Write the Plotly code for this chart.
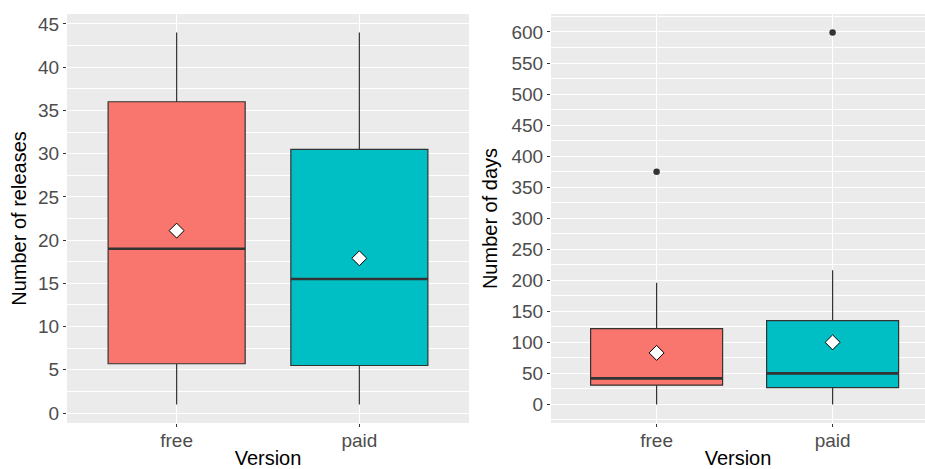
import plotly.graph_objects as go

categories = ["free", "paid"]
fills = ["#F8766D", "#00BFC4"]

# Panel 1: Number of releases
rel_min = [1, 1]
rel_q1 = [5.7, 5.5]
rel_med = [19, 15.5]
rel_q3 = [36, 30.5]
rel_max = [44, 44]
rel_mean = [21.1, 17.9]
rel_out = [[], []]

# Panel 2: Number of days
day_min = [0, 0]
day_q1 = [31, 27]
day_med = [42, 50]
day_q3 = [122, 135]
day_max = [196, 216]
day_mean = [83, 100]
day_out = [[375], [599]]

pos = [1, 2]
box_w = 0.75

fig = go.Figure()

def add_panel(xa, ya, mins, q1s, meds, q3s, maxs, means, outs):
    for i, c in enumerate(categories):
        fig.add_trace(go.Box(
            x=[pos[i]], q1=[q1s[i]], median=[meds[i]], q3=[q3s[i]],
            lowerfence=[mins[i]], upperfence=[maxs[i]],
            width=box_w, whiskerwidth=0,
            fillcolor=fills[i], line=dict(color="#333333", width=1.2),
            boxpoints=False, xaxis=xa, yaxis=ya, showlegend=False, name=c,
            hoverinfo="skip"))
        # thick median line (ggplot fatten)
        fig.add_trace(go.Scatter(
            x=[pos[i] - box_w / 2, pos[i] + box_w / 2], y=[meds[i], meds[i]],
            mode="lines", line=dict(color="#333333", width=2.6),
            xaxis=xa, yaxis=ya, showlegend=False, hoverinfo="skip"))
        if outs[i]:
            fig.add_trace(go.Scatter(
                x=[pos[i]] * len(outs[i]), y=outs[i], mode="markers",
                marker=dict(color="#333333", size=6.5),
                xaxis=xa, yaxis=ya, showlegend=False, hoverinfo="skip"))
    fig.add_trace(go.Scatter(
        x=pos, y=means, mode="markers",
        marker=dict(symbol="diamond", size=11.5, color="white",
                    line=dict(color="black", width=1)),
        xaxis=xa, yaxis=ya, showlegend=False, hoverinfo="skip"))

add_panel("x", "y", rel_min, rel_q1, rel_med, rel_q3, rel_max, rel_mean, rel_out)
add_panel("x2", "y2", day_min, day_q1, day_med, day_q3, day_max, day_mean, day_out)

W, H = 925, 469
ydom = [1 - 423 / H, 1 - 14 / H]
font_family = "Liberation Sans, Arial, sans-serif"
tickfont = dict(family=font_family, size=19, color="#4D4D4D")
titlefont = dict(family=font_family, size=20, color="black")

common_x = dict(tickvals=pos, ticktext=categories, showgrid=True, gridcolor="white",
                gridwidth=1.1, zeroline=False, ticks="outside", ticklen=3,
                tickcolor="#333333", tickwidth=1, tickfont=tickfont,
                showline=False, automargin=False, ticklabelstandoff=-3,
                title=dict(text="Version", font=titlefont, standoff=1))
common_y = dict(showgrid=True, gridcolor="white", gridwidth=1.1, zeroline=False,
                ticks="outside", ticklen=3, tickcolor="#333333", tickwidth=1,
                tickfont=tickfont, showline=False, automargin=False)

fig.update_layout(
    width=W, height=H,
    margin=dict(l=0, r=0, t=0, b=0),
    paper_bgcolor="white", plot_bgcolor="#EBEBEB",
    showlegend=False,
    xaxis=dict(domain=[67 / W, 469 / W], range=[0.4, 2.6], anchor="y", **common_x),
    xaxis2=dict(domain=[551 / W, 1.0], range=[0.4, 2.525], anchor="y2", **common_x),
    yaxis=dict(domain=ydom, range=[-1.15, 46.15], anchor="x",
               tickvals=list(range(0, 46, 5)),
               minor=dict(dtick=2.5, tick0=0, showgrid=True, gridcolor="white", gridwidth=0.5),
               title=dict(text="Number of releases", font=titlefont, standoff=6),
               **common_y),
    yaxis2=dict(domain=ydom, range=[-29.95, 628.95], anchor="x2",
                tickvals=list(range(0, 601, 50)),
                minor=dict(dtick=25, tick0=0, showgrid=True, gridcolor="white", gridwidth=0.5),
                title=dict(text="Number of days", font=titlefont, standoff=8),
                **common_y),
)

fig.write_html("out.html", config={"displayModeBar": False},
               post_script="document.body.style.margin='0';document.body.style.overflow='hidden';")
